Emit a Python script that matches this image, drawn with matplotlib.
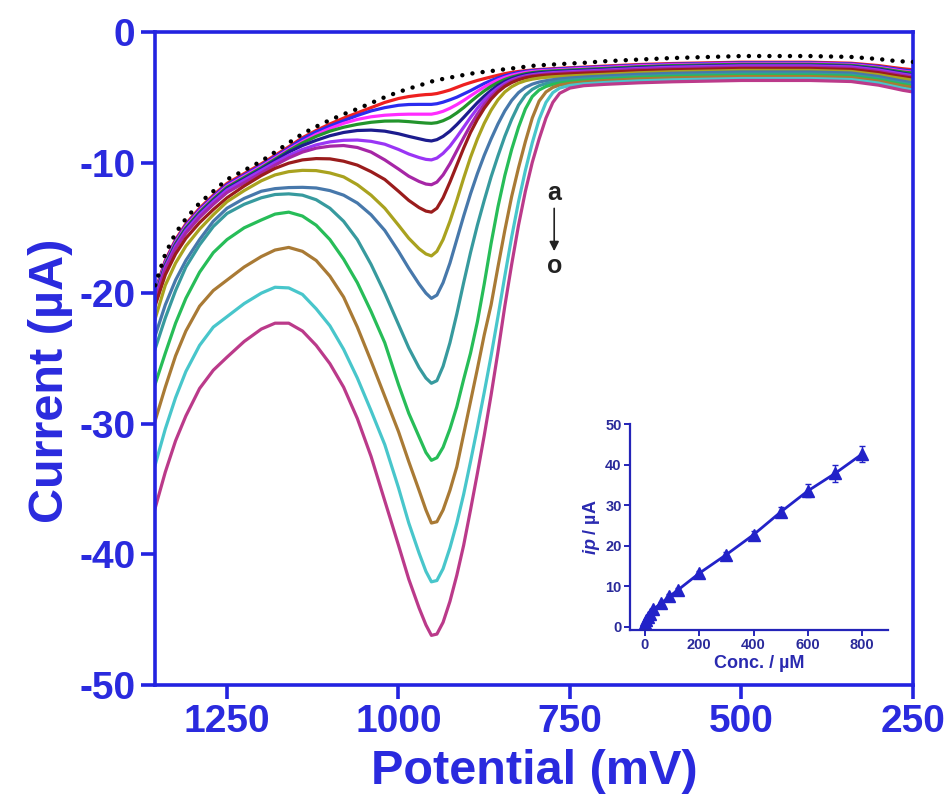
import matplotlib
matplotlib.use('Agg')
import matplotlib.pyplot as plt

plt.rcParams['font.family'] = ['Liberation Sans', 'DejaVu Sans']
plt.rcParams['font.weight'] = 'bold'
plt.rcParams['axes.unicode_minus'] = False
plt.rcParams['mathtext.fontset'] = 'custom'
plt.rcParams['mathtext.bfit'] = 'Liberation Sans:italic:bold'

# potential grid (mV) shared by all voltammograms
potential = [1355, 1340, 1325, 1310, 1290, 1270, 1250, 1225, 1200, 1180,
             1160, 1140, 1120, 1100, 1080, 1060, 1040, 1020, 1000, 985,
             970, 960, 952, 944, 935, 925, 915, 905, 895, 885,
             875, 865, 855, 845, 835, 825, 815, 805, 795, 785,
             775, 765, 750, 730, 700, 650, 600, 500, 400, 340,
             300, 280, 265, 250]

# blank (dotted)
blank = [-19.4, -17.0, -15.4, -14.3, -13.1, -12.2, -11.3, -10.6, -9.9, -9.2,
         -8.5, -7.8, -7.25, -6.75, -6.3, -5.9, -5.45, -5.0, -4.6, -4.35,
         -4.1, -3.95, -3.8, -3.7, -3.6, -3.5, -3.4, -3.3, -3.2, -3.13,
         -3.06, -3.0, -2.93, -2.86, -2.8, -2.73, -2.67, -2.6, -2.56, -2.53,
         -2.5, -2.47, -2.42, -2.37, -2.25, -2.12, -2.0, -1.85, -1.85, -1.92,
         -2.08, -2.2, -2.26, -2.3]

# curves a .. o
cur_a = [-19.9, -17.5, -15.9, -14.7, -13.5, -12.5, -11.6, -10.85, -10.1, -9.45,
         -8.8, -8.1, -7.55, -7.05, -6.6, -6.2, -5.8, -5.4, -5.1, -4.95,
         -4.85, -4.8, -4.78, -4.72, -4.6, -4.45, -4.25, -4.05, -3.88, -3.72,
         -3.58, -3.45, -3.32, -3.2, -3.1, -3.03, -2.97, -2.92, -2.88, -2.85,
         -2.82, -2.79, -2.75, -2.7, -2.62, -2.5, -2.42, -2.32, -2.32, -2.4,
         -2.58, -2.72, -2.82, -2.9]
cur_b = [-20.0, -17.6, -16.0, -14.8, -13.6, -12.6, -11.7, -10.95, -10.2, -9.55,
         -8.9, -8.2, -7.65, -7.2, -6.8, -6.4, -6.05, -5.8, -5.62, -5.56,
         -5.55, -5.55, -5.55, -5.5, -5.38, -5.2, -5.0, -4.75, -4.5, -4.22,
         -3.95, -3.72, -3.52, -3.36, -3.22, -3.1, -3.02, -2.96, -2.92, -2.89,
         -2.86, -2.83, -2.79, -2.74, -2.67, -2.55, -2.47, -2.37, -2.37, -2.45,
         -2.65, -2.8, -2.92, -3.0]
cur_c = [-20.1, -17.7, -16.1, -14.9, -13.7, -12.7, -11.8, -11.05, -10.3, -9.65,
         -9.0, -8.4, -7.85, -7.4, -7.0, -6.7, -6.5, -6.38, -6.32, -6.3,
         -6.3, -6.3, -6.3, -6.22, -6.08, -5.85, -5.57, -5.25, -4.9, -4.55,
         -4.22, -3.93, -3.68, -3.48, -3.32, -3.2, -3.1, -3.03, -2.98, -2.95,
         -2.92, -2.89, -2.85, -2.8, -2.73, -2.6, -2.52, -2.42, -2.42, -2.5,
         -2.72, -2.88, -3.0, -3.1]
cur_d = [-20.2, -17.8, -16.2, -15.0, -13.8, -12.8, -11.9, -11.15, -10.4, -9.75,
         -9.1, -8.5, -8.0, -7.6, -7.3, -7.08, -6.92, -6.83, -6.82, -6.87,
         -6.94, -6.98, -7.0, -6.95, -6.8, -6.55, -6.2, -5.8, -5.35, -4.92,
         -4.52, -4.17, -3.88, -3.64, -3.46, -3.32, -3.2, -3.12, -3.06, -3.02,
         -2.99, -2.96, -2.92, -2.87, -2.8, -2.67, -2.58, -2.48, -2.48, -2.56,
         -2.78, -2.95, -3.07, -3.15]
cur_e = [-20.3, -17.9, -16.3, -15.1, -13.9, -12.9, -12.0, -11.25, -10.5, -9.85,
         -9.2, -8.7, -8.3, -7.95, -7.7, -7.55, -7.52, -7.6, -7.8, -8.0,
         -8.18, -8.3, -8.35, -8.25, -8.0, -7.6, -7.1, -6.55, -5.98, -5.42,
         -4.92, -4.48, -4.1, -3.8, -3.57, -3.4, -3.28, -3.19, -3.13, -3.09,
         -3.06, -3.03, -2.99, -2.94, -2.87, -2.74, -2.65, -2.55, -2.55, -2.63,
         -2.86, -3.03, -3.17, -3.3]
cur_f = [-20.4, -18.0, -16.4, -15.2, -14.0, -13.0, -12.1, -11.35, -10.6, -10.0,
         -9.45, -9.0, -8.65, -8.42, -8.3, -8.28, -8.38, -8.6, -9.0, -9.35,
         -9.62, -9.76, -9.8, -9.66, -9.3, -8.75, -8.05, -7.3, -6.55, -5.85,
         -5.22, -4.7, -4.28, -3.94, -3.68, -3.5, -3.37, -3.28, -3.21, -3.16,
         -3.12, -3.09, -3.05, -3.0, -2.93, -2.8, -2.7, -2.6, -2.6, -2.68,
         -2.92, -3.1, -3.23, -3.35]
cur_g = [-20.6, -18.2, -16.6, -15.4, -14.2, -13.2, -12.3, -11.55, -10.8, -10.2,
         -9.65, -9.2, -8.9, -8.75, -8.7, -8.85, -9.2, -9.8, -10.5, -11.05,
         -11.45, -11.65, -11.7, -11.5, -10.95, -10.1, -9.1, -8.1, -7.15, -6.3,
         -5.55, -4.95, -4.45, -4.07, -3.78, -3.58, -3.44, -3.35, -3.29, -3.24,
         -3.2, -3.17, -3.13, -3.08, -3.0, -2.88, -2.8, -2.7, -2.7, -2.78,
         -3.02, -3.2, -3.33, -3.45]
cur_h = [-21.0, -18.6, -17.0, -15.8, -14.6, -13.6, -12.7, -11.8, -11.0, -10.45,
         -10.05, -9.8, -9.7, -9.72, -9.9, -10.2, -10.7, -11.3, -12.2, -12.9,
         -13.45, -13.72, -13.8, -13.5, -12.7, -11.5, -10.2, -8.9, -7.7, -6.7,
         -5.85, -5.15, -4.6, -4.18, -3.88, -3.67, -3.52, -3.42, -3.36, -3.31,
         -3.28, -3.25, -3.21, -3.16, -3.1, -2.98, -2.9, -2.8, -2.8, -2.88,
         -3.12, -3.3, -3.43, -3.55]
cur_i = [-22.0, -19.4, -17.7, -16.4, -15.1, -14.0, -13.0, -12.15, -11.4, -10.95,
         -10.7, -10.6, -10.62, -10.8, -11.1, -11.7, -12.5, -13.5, -14.8, -15.8,
         -16.6, -17.0, -17.15, -16.8, -15.9, -14.5, -12.9, -11.2, -9.6, -8.2,
         -7.0, -6.0, -5.2, -4.6, -4.2, -3.92, -3.74, -3.62, -3.54, -3.48,
         -3.44, -3.41, -3.37, -3.32, -3.25, -3.13, -3.05, -2.95, -2.95, -3.03,
         -3.28, -3.46, -3.58, -3.7]
cur_j = [-23.3, -20.9, -19.0, -17.5, -15.9, -14.5, -13.5, -12.75, -12.2, -12.0,
         -11.92, -11.9, -11.95, -12.15, -12.5, -13.1, -14.0, -15.2, -16.8, -18.1,
         -19.3, -20.0, -20.4, -20.15, -19.2, -17.7, -15.9, -14.1, -12.4, -10.85,
         -9.45, -8.2, -7.05, -6.05, -5.25, -4.65, -4.25, -4.0, -3.84, -3.74,
         -3.66, -3.6, -3.53, -3.46, -3.38, -3.25, -3.17, -3.07, -3.07, -3.15,
         -3.42, -3.62, -3.77, -3.9]
cur_k = [-24.3, -21.9, -19.8, -18.0, -16.3, -14.9, -13.9, -13.2, -12.7, -12.45,
         -12.4, -12.5, -12.85, -13.5, -14.5, -15.9, -17.8, -20.0, -22.4, -24.2,
         -25.7, -26.5, -26.9, -26.7, -25.6, -23.8, -21.6, -19.2, -16.9, -14.8,
         -12.9, -11.1, -9.5, -8.0, -6.7, -5.6, -4.85, -4.4, -4.12, -3.96,
         -3.85, -3.77, -3.69, -3.61, -3.52, -3.4, -3.32, -3.22, -3.22, -3.3,
         -3.57, -3.78, -3.93, -4.05]
cur_l = [-27.0, -24.6, -22.3, -20.4, -18.4, -16.9, -15.9, -15.0, -14.4, -13.95,
         -13.8, -14.1, -14.8, -15.9, -17.4, -19.2, -21.4, -23.8, -27.0, -29.2,
         -31.0, -32.2, -32.8, -32.6, -31.8, -30.4, -28.7, -26.6, -24.6, -22.2,
         -19.3, -16.2, -13.4, -11.0, -9.0, -7.3, -5.9, -4.95, -4.45, -4.18,
         -4.02, -3.92, -3.82, -3.73, -3.63, -3.5, -3.42, -3.32, -3.32, -3.4,
         -3.67, -3.88, -4.03, -4.15]
cur_m = [-29.8, -27.2, -24.8, -22.9, -21.0, -19.8, -19.0, -18.0, -17.2, -16.7,
         -16.5, -16.8, -17.5, -18.7, -20.3, -22.6, -25.2, -27.9, -30.6, -32.9,
         -35.1, -36.6, -37.6, -37.5, -36.6, -35.1, -33.3, -30.8, -28.3, -25.8,
         -23.2, -20.9, -18.0, -15.2, -12.6, -10.4, -8.4, -6.6, -5.3, -4.6,
         -4.25, -4.07, -3.94, -3.84, -3.73, -3.6, -3.52, -3.42, -3.42, -3.5,
         -3.77, -3.98, -4.13, -4.25]
cur_n = [-33.2, -30.4, -28.0, -26.0, -24.0, -22.6, -21.8, -20.8, -20.0, -19.55,
         -19.6, -20.1, -21.2, -22.5, -24.3, -26.5, -29.0, -31.6, -34.9, -37.6,
         -39.9, -41.3, -42.1, -42.0, -41.1, -39.5, -37.6, -35.4, -32.9, -30.3,
         -27.6, -24.8, -21.8, -18.7, -15.7, -13.0, -10.6, -8.5, -6.7, -5.4,
         -4.65, -4.3, -4.1, -3.98, -3.88, -3.75, -3.67, -3.57, -3.57, -3.65,
         -3.92, -4.15, -4.32, -4.45]
cur_o = [-36.5, -33.7, -31.3, -29.4, -27.3, -25.9, -24.9, -23.7, -22.75, -22.3,
         -22.3, -22.9, -24.0, -25.4, -27.2, -29.6, -32.5, -35.9, -39.3, -41.9,
         -44.1, -45.4, -46.2, -46.1, -45.2, -43.6, -41.6, -39.3, -36.6, -33.8,
         -30.9, -27.8, -24.5, -21.0, -17.8, -14.8, -12.2, -10.0, -8.2, -6.6,
         -5.4, -4.7, -4.3, -4.12, -4.02, -3.9, -3.82, -3.72, -3.72, -3.8,
         -4.08, -4.3, -4.47, -4.6]

curves = [cur_a, cur_b, cur_c, cur_d, cur_e, cur_f, cur_g, cur_h,
          cur_i, cur_j, cur_k, cur_l, cur_m, cur_n, cur_o]
colors = ['#ee2020', '#2b2bef', '#ff2cff', '#23942c', '#1c1c8e', '#9a35f5', '#a626a6',
          '#9a1c1c', '#a9a21f', '#4778ab', '#379a9e', '#27bd58', '#a97a35', '#48c6cb', '#bb3a8a']

# inset calibration data
conc = [1, 5, 10, 20, 30, 60, 90, 120, 200, 300, 400, 500, 600, 700, 800]
ip = [1.0, 1.6, 2.3, 3.1, 4.3, 5.8, 7.5, 9.0, 13.2, 17.8, 22.7, 28.3, 33.5, 37.8, 42.6]
ip_err = [0.2, 0.2, 0.3, 0.3, 0.4, 0.4, 0.5, 0.5, 0.6, 0.7, 0.8, 1.2, 1.6, 2.0, 2.0]

axis_blue = '#2323e0'
text_blue = '#2a2ade'

fig = plt.figure(figsize=(9.48, 7.97), dpi=100)
ax = fig.add_axes([0.1635, 0.1405, 0.7995, 0.8195])

ax.plot(potential, blank, color='black', lw=3.2, linestyle=(0, (0.01, 2.3)),
        dash_capstyle='round', zorder=3)
for ys, c in zip(curves, colors):
    ax.plot(potential, ys, color=c, lw=2.3, solid_joinstyle='round')

ax.set_xlim(1355, 250)
ax.set_ylim(-50, 0)
ax.set_xticks([1250, 1000, 750, 500, 250])
ax.set_yticks([0, -10, -20, -30, -40, -50])
for s in ax.spines.values():
    s.set_color(axis_blue)
    s.set_linewidth(2.6)
ax.tick_params(direction='out', length=10, width=2.6, color=axis_blue,
               labelcolor=text_blue, labelsize=28, pad=4)
ax.set_xlabel('Potential (mV)', fontsize=35, fontweight='bold', color=text_blue, labelpad=6)
ax.set_ylabel('Current (µA)', fontsize=35, fontweight='bold', color=text_blue)
ax.yaxis.set_label_coords(-0.108, 0.465)

ax.annotate('', xy=(773, -17.0), xytext=(773, -13.3),
            arrowprops=dict(arrowstyle='-|>', color='#222222', lw=1.2, mutation_scale=14))
ax.text(773, -12.3, 'a', ha='center', va='center', fontsize=18, color='#222222')
ax.text(773, -17.9, 'o', ha='center', va='center', fontsize=18, color='#222222')

# inset
ins = fig.add_axes([0.6646, 0.2095, 0.272, 0.2585])
ins.errorbar(conc, ip, yerr=ip_err, color='#2222c8', marker='^', markersize=8,
             lw=2.0, capsize=2.5, elinewidth=1.0)
ins.set_xlim(-55, 895)
ins.set_ylim(-0.8, 50)
ins.set_xticks([0, 200, 400, 600, 800])
ins.set_yticks([0, 10, 20, 30, 40, 50])
ins.spines['top'].set_visible(False)
ins.spines['right'].set_visible(False)
for s in ['left', 'bottom']:
    ins.spines[s].set_color('#2424b8')
    ins.spines[s].set_linewidth(1.6)
ins.tick_params(direction='out', length=4, width=1.4, color='#2424b8',
                labelcolor='#2a2a9a', labelsize=10.5, pad=2)
ins.set_xlabel('Conc. / µM', fontsize=13, fontweight='bold', color='#2a2ab0', labelpad=2)
ins.set_ylabel(r'$\mathbfit{ip}$ / µA', fontsize=13, fontweight='bold', color='#2a2ab0', labelpad=2)
ins.patch.set_alpha(0)

fig.savefig('out.png', dpi=100)
